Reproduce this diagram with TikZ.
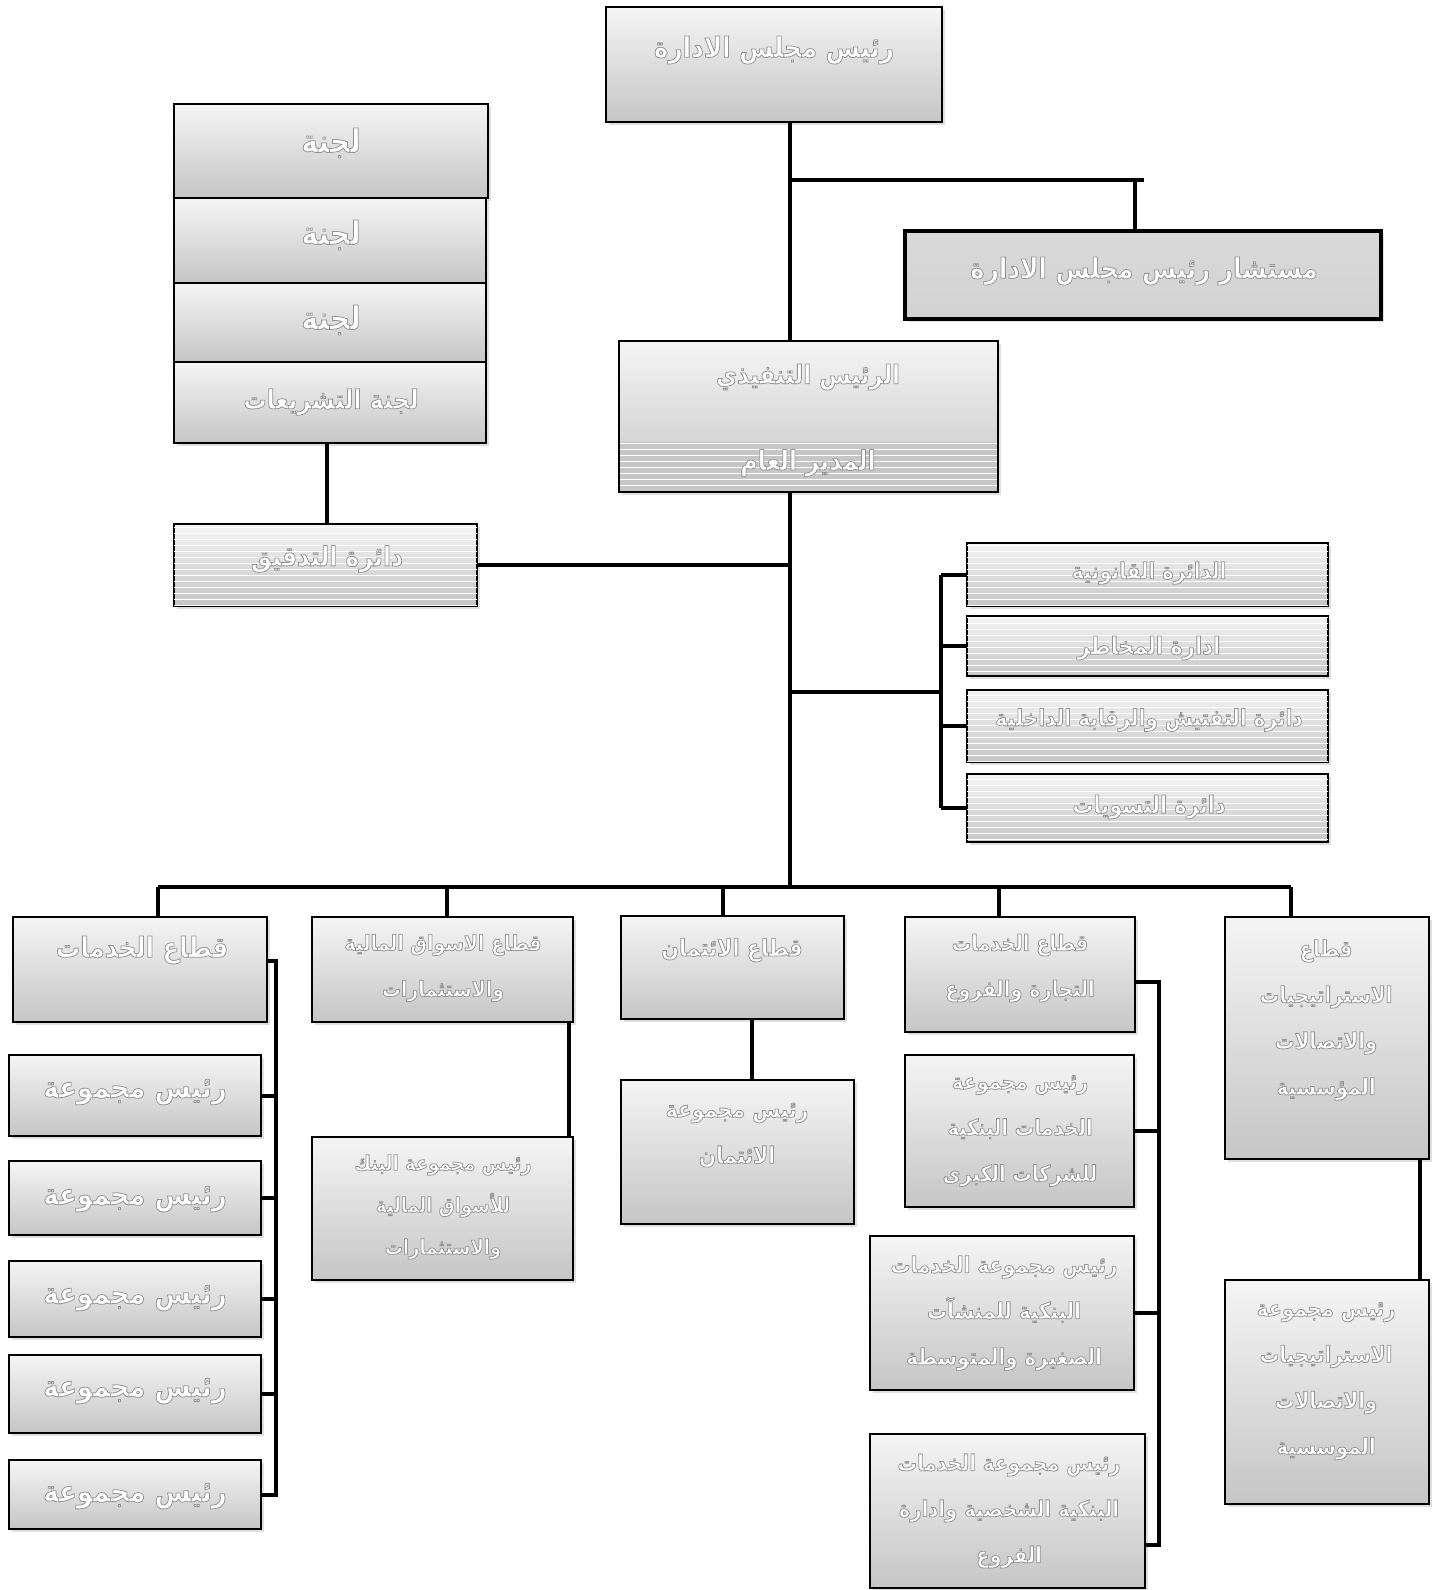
\documentclass[tikz,border=0pt]{standalone}
\usepackage{fontspec}
\newfontfamily\arabicfont[Script=Arabic, FakeStretch=0.88]{DejaVu Sans}
\TeXXeTstate=1
\usetikzlibrary{fit,shadows,patterns}
\newcommand\ar[1]{\beginR #1\endR}
\newcommand\embon{\special{pdf:literal direct 2 Tr 0.4 w 0.58 G}}
\newcommand\emboff{\special{pdf:literal direct 0 Tr}}
\newcommand\emb[1]{\embon#1\emboff}
\begin{document}
\begin{tikzpicture}[x=0.5pt,y=-0.5pt,
 box/.style={draw=black, line width=1.2pt, top color=gray!8, bottom color=gray!45, inner sep=0pt,
   drop shadow={opacity=0.25, shadow xshift=1.5pt, shadow yshift=-1.5pt}},
 striped/.style={box, postaction={pattern=horizontal lines, pattern color=white}},
 conn/.style={draw=black, line width=2pt},
 lbl/.style={text=white, align=center, inner sep=0pt, font=\arabicfont\bfseries\fontsize{#1}{23}\selectfont},
 lbl/.default=12]
\fill[white] (0,0) rectangle (1439,1590);
\useasboundingbox (0,0) rectangle (1439,1590);

% top
\node[box, fit={(606,7) (942,122)}] (chair) {};
\node[lbl=14] (chairT) at (774,50) {\emb{\ar{رئيس مجلس الادارة}}};
\node[box, line width=1.7pt, top color=gray!30, bottom color=gray!35, fit={(905,231) (1381,319)}] (adv) {};
\node[lbl=14] (advT) at (1144,271) {\emb{\ar{مستشار رئيس مجلس الادارة}}};
\node[box, fit={(619,341) (998,492)},
  path picture={\fill[gray!45] (path picture bounding box.south west) rectangle ([yshift=25pt]path picture bounding box.south east);
    \fill[pattern=horizontal lines, pattern color=white] (path picture bounding box.south west) rectangle ([yshift=25pt]path picture bounding box.south east);}] (exec) {};
\node[lbl=13] (execT1) at (808,377) {\emb{\ar{الرئيس التنفيذي}}};
\node[lbl=13.5] (execT2) at (808,463) {\emb{\ar{المدير العام}}};

% committees
\node[box, fit={(174,104) (488,198)}] (c1) {};
\node[box, fit={(174,198) (486,283)}] (c2) {};
\node[box, fit={(174,283) (486,362)}] (c3) {};
\node[box, fit={(174,362) (486,443)}] (c4) {};
\node[lbl=16] (c1T) at (331,143) {\emb{\ar{لجنة}}};
\node[lbl=16] (c2T) at (331,235) {\emb{\ar{لجنة}}};
\node[lbl=16] (c3T) at (331,320) {\emb{\ar{لجنة}}};
\node[lbl=13.2] (c4T) at (331,402) {\emb{\ar{لجنة التشريعات}}};
\node[striped, fit={(174,524) (477,606)}] (audit) {};
\node[lbl=13.4] (auditT) at (327,559) {\emb{\ar{دائرة التدقيق}}};

% right departments
\node[striped, fit={(967,543) (1328,606)}] (legal) {};
\node[striped, fit={(967,616) (1328,676)}] (risk) {};
\node[striped, fit={(967,690) (1328,762)}] (insp) {};
\node[striped, fit={(967,774) (1328,842)}] (settle) {};
\node[lbl=11.3] (legalT) at (1149,573) {\emb{\ar{الدائرة القانونية}}};
\node[lbl=12] (riskT) at (1149,648) {\emb{\ar{ادارة المخاطر}}};
\node[lbl=11.4] (inspT) at (1149,720) {\emb{\ar{دائرة التفتيش والرقابة الداخلية}}};
\node[lbl=11.9] (settleT) at (1149,807) {\emb{\ar{دائرة التسويات}}};

% sectors
\node[box, fit={(13,917) (267,1022)}] (sec1) {};
\node[box, fit={(312,917) (573,1022)}] (sec2) {};
\node[box, fit={(621,916) (844,1019)}] (sec3) {};
\node[box, fit={(905,917) (1135,1032)}] (sec4) {};
\node[box, fit={(1225,917) (1429,1159)}] (sec5) {};
\node[lbl=13.9] (sec1T) at (142,950) {\emb{\ar{قطاع الخدمات}}};
\node[lbl=10.7] (sec2T) at (443,968) {\emb{\ar{قطاع الاسواق المالية}\\\ar{والاستثمارات}}};
\node[lbl=11.8] (sec3T) at (732,950) {\emb{\ar{قطاع الائتمان}}};
\node[lbl=11] (sec4T) at (1020,968) {\emb{\ar{قطاع الخدمات}\\\ar{التجارة والفروع}}};
\node[lbl=11.2] (sec5T) at (1326,1020) {\emb{\ar{قطاع}\\\ar{الاستراتيجيات}\\\ar{والاتصالات}\\\ar{المؤسسية}}};

% groups under services
\node[box, fit={(9,1055) (261,1136)}] (g1) {};
\node[box, fit={(9,1161) (261,1235)}] (g2) {};
\node[box, fit={(9,1261) (261,1337)}] (g3) {};
\node[box, fit={(9,1355) (261,1433)}] (g4) {};
\node[box, fit={(9,1460) (261,1529)}] (g5) {};
\node[lbl=14.8] (g1T) at (135,1092) {\emb{\ar{رئيس مجموعة}}};
\node[lbl=14.8] (g2T) at (135,1199) {\emb{\ar{رئيس مجموعة}}};
\node[lbl=14.8] (g3T) at (135,1298) {\emb{\ar{رئيس مجموعة}}};
\node[lbl=14.8] (g4T) at (135,1391) {\emb{\ar{رئيس مجموعة}}};
\node[lbl=14.8] (g5T) at (135,1496) {\emb{\ar{رئيس مجموعة}}};

% other children
\node[box, fit={(312,1137) (573,1280)}] (mch) {};
\node[lbl=10.2] (mchT) at (443,1207) {\emb{\ar{رئيس مجموعة البنك}\\[-2pt]\ar{للأسواق المالية}\\[-2pt]\ar{والاستثمارات}}};
\node[box, fit={(621,1080) (854,1224)}] (cch) {};
\node[lbl=11.5] (cchT) at (737,1135) {\emb{\ar{رئيس مجموعة}\\\ar{الائتمان}}};
\node[box, fit={(905,1055) (1134,1207)}] (corp) {};
\node[lbl=11] (corpT) at (1020,1131) {\emb{\ar{رئيس مجموعة}\\\ar{الخدمات البنكية}\\\ar{للشركات الكبرى}}};
\node[box, fit={(870,1236) (1134,1390)}] (sme) {};
\node[lbl=11.3] (smeT) at (1004,1313) {\emb{\ar{رئيس مجموعة الخدمات}\\\ar{البنكية للمنشآت}\\\ar{الصغيرة والمتوسطة}}};
\node[box, fit={(870,1434) (1145,1588)}] (pers) {};
\node[lbl=11.1] (persT) at (1009,1511) {\emb{\ar{رئيس مجموعة الخدمات}\\\ar{البنكية الشخصية وادارة}\\\ar{الفروع}}};
\node[box, fit={(1225,1280) (1429,1504)}] (sch) {};
\node[lbl=11.2] (schT) at (1326,1381) {\emb{\ar{رئيس مجموعة}\\\ar{الاستراتيجيات}\\\ar{والاتصالات}\\\ar{الموسسية}}};

% connectors
\coordinate (trunk) at (790,180);
\coordinate (advEnd) at (1144,180);
\coordinate (advx) at (1135,180);
\draw[conn] (chair.south -| trunk) -- (exec.north -| trunk);
\draw[conn] (trunk) -- (advEnd);
\draw[conn] (advx) -- (adv.north -| advx);
\coordinate (cx) at (327,443);
\draw[conn] (c4.south -| cx) -- (audit.north -| cx);
\coordinate (bus) at (790,887);
\draw[conn] (exec.south -| bus) -- (bus);
\draw[conn] (audit.east) -- (audit.east -| bus);
\coordinate (rb) at (941,692);
\draw[conn] (rb -| bus) -- (rb);
\draw[conn] (legal.west -| rb) -- (settle.west -| rb);
\foreach \n in {legal,risk,insp,settle} \draw[conn] (\n.west -| rb) -- (\n.west);
\coordinate (d1) at (158,887);
\coordinate (d2) at (447,887);
\coordinate (d3) at (723,887);
\coordinate (d4) at (999,887);
\coordinate (d5) at (1291,887);
\draw[conn] (d1) -- (d5);
\foreach \i in {1,...,5} \draw[conn] (d\i) -- (sec\i.north -| d\i);
\coordinate (sv) at (276,961);
\draw[conn] (sec1.east |- sv) -- (sv) -- (sv |- g5.east) -- (g5.east);
\foreach \n in {g1,g2,g3,g4} \draw[conn] (\n.east) -- (\n.east -| sv);
\coordinate (mx) at (569,1022);
\draw[conn] (sec2.south -| mx) -- (mch.north -| mx);
\coordinate (crx) at (752,1019);
\draw[conn] (sec3.south -| crx) -- (cch.north -| crx);
\coordinate (cv) at (1159,982);
\coordinate (cvEnd) at (1159,1545);
\draw[conn] (sec4.east |- cv) -- (cv) -- (cvEnd) -- (pers.east |- cvEnd);
\draw[conn] (corp.east) -- (corp.east -| cv);
\draw[conn] (sme.east) -- (sme.east -| cv);
\coordinate (sx) at (1420,1159);
\draw[conn] (sec5.south -| sx) -- (sch.north -| sx);
\end{tikzpicture}
\end{document}
